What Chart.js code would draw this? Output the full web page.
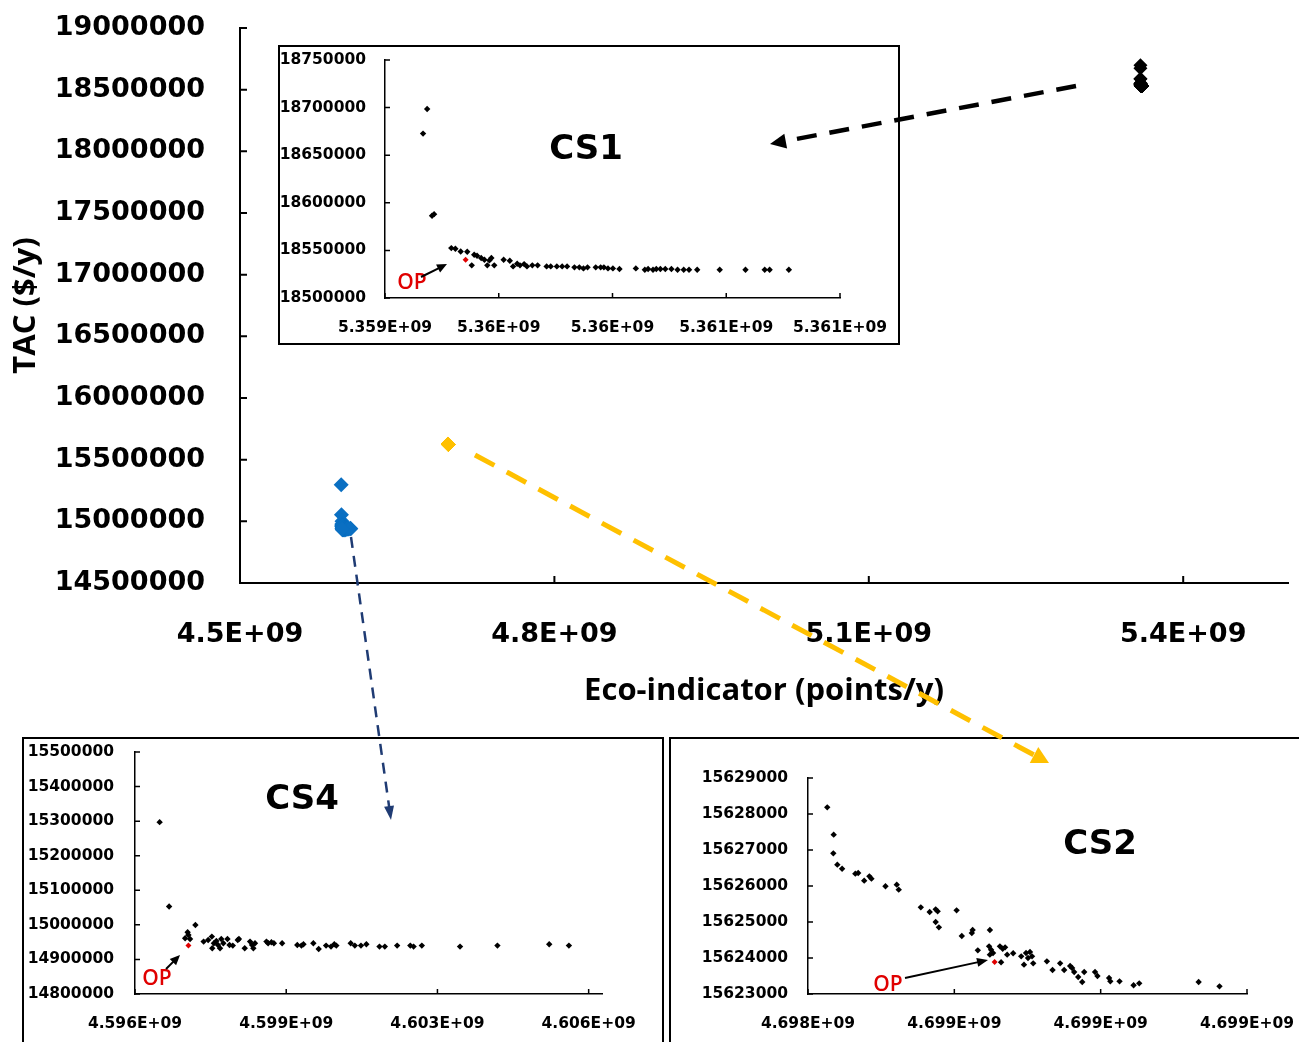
<!DOCTYPE html>
<html>
<head>
<meta charset="utf-8">
<script src="https://cdn.jsdelivr.net/npm/chart.js@4.4.0/dist/chart.umd.min.js"></script>
<style>
  body { margin: 0; background: #fff; overflow: hidden; }
  #page { position: relative; width: 1299px; height: 1042px; overflow: hidden; background: #fff; }
  .box { position: absolute; border: 2px solid #000; background: #fff; overflow: hidden; }
  .box canvas { position: absolute; left: 0; top: 0; }
  .lbl { position: absolute; font: bold 34px "DejaVu Sans"; transform: translate(-50%, -50%); white-space: nowrap; }
  .op { position: absolute; font: 600 21px "Open Sans"; color: #e00000; transform: translate(-50%, -50%); }
  svg { position: absolute; left: 0; top: 0; }
</style>
</head>
<body>
<div id="page">
  <canvas id="main" width="1299" height="720" style="position:absolute;left:0;top:0"></canvas>

  <div class="box" style="left:278px;top:45px;width:618px;height:296px">
    <canvas id="cs1" width="618" height="296"></canvas>
  </div>
  <div class="box" style="left:22px;top:737px;width:638px;height:320px">
    <canvas id="cs4" width="638" height="300"></canvas>
  </div>
  <div class="box" style="left:669px;top:737px;width:640px;height:320px">
    <canvas id="cs2" width="640" height="300"></canvas>
  </div>

  <div class="lbl" style="left:586px;top:147px">CS1</div>
  <div class="lbl" style="left:302px;top:797px">CS4</div>
  <div class="lbl" style="left:1100px;top:842px">CS2</div>
  <div class="op" style="left:412px;top:281px">OP</div>
  <div class="op" style="left:157px;top:977px">OP</div>
  <div class="op" style="left:888px;top:983px">OP</div>

  <svg id="arrows" width="1299" height="1042"></svg>
</div>

<script>
// ---- data ----
// CS1 Pareto points (Eco-indicator points/y, TAC $/y)
const cs1X = [5359167300, 5359185300, 5359206800, 5359215800, 5359291400, 5359309400, 5359332700, 5359361500,
  5359381300, 5359392100, 5359404700, 5359422700, 5359437100, 5359449700, 5359458600, 5359467600, 5359480200,
  5359521600, 5359548600, 5359563000, 5359581000, 5359593500, 5359611500, 5359624100, 5359647500, 5359670900,
  5359710400, 5359728400, 5359755400, 5359778800, 5359800400, 5359832700, 5359854300, 5359872300, 5359890300,
  5359926300, 5359947900, 5359962200, 5359980200, 5360001800, 5360030600, 5360102600, 5360142100, 5360156500,
  5360178100, 5360192500, 5360210500, 5360232100, 5360259000, 5360286000, 5360313000, 5360336400, 5360372300,
  5360471300, 5360584600, 5360669100, 5360690700, 5360775200];
const cs1Y = [18672700, 18698600, 18586400, 18588100, 18552400, 18551700, 18548900, 18548600,
  18534300, 18545500, 18544400, 18542000, 18540200, 18534300, 18539500, 18542000, 18534300,
  18540200, 18539100, 18533200, 18536000, 18534300, 18535600, 18533200, 18534300, 18534300,
  18533200, 18533200, 18533200, 18533200, 18533200, 18532200, 18532200, 18531100, 18532200,
  18532200, 18532200, 18532200, 18531100, 18531100, 18530400, 18531100, 18529700, 18530400,
  18529700, 18530400, 18530400, 18530400, 18530400, 18529700, 18529700, 18529700, 18529700,
  18529700, 18529700, 18529700, 18529700, 18529700];
const cs1OpX = [5359354300];
const cs1OpY = [18540200];

// CS4
const cs4X = [4596554000, 4596767000, 4597358000, 4597183000, 4597201000, 4597127000, 4597238000, 4597543000,
  4597645000, 4597728000, 4597737000, 4597774000, 4597829000, 4597866000, 4597912000, 4597940000, 4597986000,
  4598079000, 4598125000, 4598199000, 4598310000, 4598337000, 4598467000, 4598587000, 4598633000, 4598661000,
  4598698000, 4598956000, 4598993000, 4599067000, 4599123000, 4599308000, 4599649000, 4599742000, 4599788000,
  4600010000, 4600130000, 4600296000, 4600407000, 4600481000, 4600527000, 4600850000, 4600943000, 4601081000,
  4601202000, 4601497000, 4601617000, 4601894000, 4602190000, 4602264000, 4602449000, 4603308000, 4604149000,
  4605313000, 4605756000];
const cs4Y = [15297100, 15052900, 14999800, 14978600, 14970900, 14961200, 14959300, 14951500,
  14956400, 14966000, 14932200, 14946700, 14953500, 14941900, 14932200, 14959300, 14946700,
  14959300, 14941900, 14940000, 14956400, 14959300, 14932200, 14951500, 14941900, 14932200,
  14946700, 14951500, 14946700, 14949600, 14946700, 14946700, 14941900, 14940000, 14943800,
  14946700, 14930300, 14940000, 14937100, 14943800, 14940000, 14946700, 14940000, 14940000,
  14943800, 14937100, 14937100, 14940000, 14940000, 14937100, 14940000, 14937100, 14940000,
  14943800, 14940000];
const cs4OpX = [4597201000];
const cs4OpY = [14940000];

// CS2
const cs2X = [4698426300, 4698435100, 4698434600, 4698440100, 4698446600, 4698464700, 4698468600, 4698476800,
  4698483900, 4698486700, 4698505900, 4698521300, 4698524000, 4698554200, 4698566300, 4698574500, 4698577200,
  4698574500, 4698578900, 4698603100, 4698610200, 4698623900, 4698625000, 4698632100, 4698648600, 4698647500,
  4698650200, 4698652900, 4698648600, 4698663900, 4698662300, 4698666100, 4698669400, 4698672200, 4698680400,
  4698691400, 4698695200, 4698698000, 4698700700, 4698703400, 4698706200, 4698707800, 4698726500, 4698734200,
  4698744600, 4698750100, 4698758300, 4698761000, 4698763800, 4698769300, 4698774800, 4698777500, 4698792300,
  4698795600, 4698811500, 4698813200, 4698825800, 4698845000, 4698852700, 4698933900, 4698962400];
const cs2Y = [15628185, 15627426, 15626907, 15626593, 15626481, 15626343, 15626361, 15626148,
  15626268, 15626204, 15625991, 15626037, 15625898, 15625407, 15625278, 15625352, 15625296,
  15625000, 15624852, 15625324, 15624611, 15624694, 15624778, 15624213, 15624778, 15624324,
  15624231, 15624139, 15624093, 15623880, 15624324, 15624259, 15624296, 15624093, 15624130,
  15624046, 15623815, 15624139, 15624000, 15624167, 15624046, 15623852, 15623907, 15623667,
  15623852, 15623667, 15623778, 15623722, 15623611, 15623472, 15623333, 15623611, 15623611,
  15623500, 15623444, 15623352, 15623352, 15623241, 15623296, 15623333, 15623213];
const cs2OpX = [4698655100];
const cs2OpY = [15623889];

// tick positions and labels
const mainXTicks = [4.5e9, 4.8e9, 5.1e9, 5.4e9];
const mainXLabels = ['4.5E+09', '4.8E+09', '5.1E+09', '5.4E+09'];
const cs1XTicks = [5.359e9, 5.3595e9, 5.36e9, 5.3605e9, 5.361e9];
const cs1XLabels = ['5.359E+09', '5.36E+09', '5.36E+09', '5.361E+09', '5.361E+09'];
const cs4XTicks = [4.596e9, 4.5994e9, 4.6028e9, 4.6062e9];
const cs4XLabels = ['4.596E+09', '4.599E+09', '4.603E+09', '4.606E+09'];
const cs2XTicks = [4.6984e9, 4.6986e9, 4.6988e9, 4.699e9];
const cs2XLabels = ['4.698E+09', '4.699E+09', '4.699E+09', '4.699E+09'];

// ---- helpers ----
function pts(xs, ys) {
  return xs.map((x, i) => ({ x: x, y: ys[i] }));
}

// Excel-style tick marks pointing into the plot area
const innerTicks = {
  id: 'innerTicks',
  afterDatasetsDraw(chart, args, o) {
    const { ctx, chartArea: a, scales } = chart;
    ctx.save();
    ctx.strokeStyle = '#000';
    ctx.lineWidth = o.width;
    ctx.beginPath();
    scales.x.ticks.forEach(t => {
      const p = scales.x.getPixelForValue(t.value);
      ctx.moveTo(p, a.bottom);
      ctx.lineTo(p, a.bottom - o.len);
    });
    scales.y.ticks.forEach(t => {
      const p = scales.y.getPixelForValue(t.value);
      ctx.moveTo(a.left, p);
      ctx.lineTo(a.left + o.len, p);
    });
    ctx.stroke();
    ctx.restore();
  }
};

function axisX(min, max, ticks, labels, h, font, pad, bw) {
  return {
    type: 'linear', min: min, max: max,
    afterBuildTicks: s => { s.ticks = ticks.map(v => ({ value: v })); },
    afterFit: s => { s.height = h; s.paddingLeft = 0; s.paddingRight = 0; },
    grid: { display: false, drawTicks: false },
    border: { display: true, color: '#000', width: bw },
    ticks: { color: '#000', font: font, padding: pad, maxRotation: 0, autoSkip: false,
      callback: (v, i) => labels[i] }
  };
}
function axisY(min, max, step, w, font, pad, bw) {
  return {
    type: 'linear', min: min, max: max,
    afterFit: s => { s.width = w; s.paddingTop = 0; s.paddingBottom = 0; },
    grid: { display: false, drawTicks: false },
    border: { display: true, color: '#000', width: bw },
    ticks: { color: '#000', font: font, padding: pad, stepSize: step, callback: v => String(v) }
  };
}

// ---- main chart ----
const bigFont = { family: 'DejaVu Sans', size: 27, weight: 'bold' };
new Chart(document.getElementById('main'), {
  type: 'scatter',
  data: {
    datasets: [
      { label: 'CS1', data: pts(cs1X.concat(cs1OpX), cs1Y.concat(cs1OpY)),
        pointStyle: 'rectRot', radius: 7, backgroundColor: '#000', borderColor: '#000', borderWidth: 0 },
      { label: 'CS4', data: pts(cs4X.concat(cs4OpX), cs4Y.concat(cs4OpY)),
        pointStyle: 'rectRot', radius: 7.5, backgroundColor: '#0a6fc2', borderColor: '#0a6fc2', borderWidth: 0 },
      { label: 'CS2', data: pts(cs2X.concat(cs2OpX), cs2Y.concat(cs2OpY)),
        pointStyle: 'rectRot', radius: 7, backgroundColor: '#ffc000', borderColor: '#ffc000', borderWidth: 0 }
    ]
  },
  options: {
    responsive: false,
    animation: false,
    layout: { padding: { top: 28, right: 11, left: 0, bottom: 0 } },
    plugins: { legend: { display: false }, tooltip: { enabled: false }, innerTicks: { len: 7, width: 2 } },
    scales: {
      x: Object.assign(axisX(4.5e9, 5.5e9, mainXTicks, mainXLabels, 137, bigFont, 36, 2), {
        title: { display: true, text: 'Eco-indicator (points/y)', color: '#000',
          font: { family: 'Open Sans', size: 31, weight: 'bold' }, padding: { top: 0, bottom: 10 } }
      }),
      y: Object.assign(axisY(14500000, 19000000, 500000, 240, bigFont, 35, 2), {
        title: { display: true, text: 'TAC ($/y)', color: '#000',
          font: { family: 'Open Sans', size: 31, weight: 'bold' }, padding: { top: 8, bottom: 0 } }
      })
    }
  },
  plugins: [innerTicks]
});

// ---- insets ----
const smallFont = { family: 'DejaVu Sans', size: 15.5, weight: 'bold' };
function inset(id, xs, ys, opx, opy, xr, xt, xl, yr, g) {
  new Chart(document.getElementById(id), {
    type: 'scatter',
    data: {
      datasets: [
        { label: 'OP', data: pts(opx, opy), pointStyle: 'rectRot', radius: 3,
          backgroundColor: '#e00000', borderWidth: 0 },
        { label: id, data: pts(xs, ys), pointStyle: 'rectRot', radius: 3.2,
          backgroundColor: '#000', borderWidth: 0 }
      ]
    },
    options: {
      responsive: false,
      animation: false,
      layout: { padding: { top: g.top, right: g.right, left: 0, bottom: 0 } },
      plugins: { legend: { display: false }, tooltip: { enabled: false }, innerTicks: { len: 5, width: 1.5 } },
      scales: {
        x: axisX(xr[0], xr[1], xt, xl, g.xh, smallFont, 21, 1.5),
        y: axisY(yr[0], yr[1], yr[2], g.yw, smallFont, g.ypad, 1.5)
      }
    },
    plugins: [innerTicks]
  });
}
inset('cs1', cs1X, cs1Y, cs1OpX, cs1OpY, [5.359e9, 5.361e9], cs1XTicks, cs1XLabels,
  [18500000, 18750000, 50000], { top: 13, right: 58, xh: 45, yw: 105, ypad: 19 });
inset('cs4', cs4X, cs4Y, cs4OpX, cs4OpY, [4.596e9, 4.6065e9], cs4XTicks, cs4XLabels,
  [14800000, 15500000, 100000], { top: 13, right: 60, xh: 45, yw: 111, ypad: 21 });
inset('cs2', cs2X, cs2Y, cs2OpX, cs2OpY, [4.6984e9, 4.699e9], cs2XTicks, cs2XLabels,
  [15623000, 15629000, 1000], { top: 39, right: 64, xh: 45, yw: 137, ypad: 20 });

// ---- pointer arrows ----
const svg = document.getElementById('arrows');
function arrow(x1, y1, x2, y2, color, w, dash, hl, hw) {
  const dx = x2 - x1, dy = y2 - y1, L = Math.hypot(dx, dy);
  const ux = dx / L, uy = dy / L;
  const bx = x2 - ux * hl, by = y2 - uy * hl;
  const ns = 'http://www.w3.org/2000/svg';
  const line = document.createElementNS(ns, 'line');
  line.setAttribute('x1', x1); line.setAttribute('y1', y1);
  line.setAttribute('x2', bx + ux * 1); line.setAttribute('y2', by + uy * 1);
  line.setAttribute('stroke', color); line.setAttribute('stroke-width', w);
  if (dash) line.setAttribute('stroke-dasharray', dash);
  svg.appendChild(line);
  const head = document.createElementNS(ns, 'polygon');
  const px = -uy * hw / 2, py = ux * hw / 2;
  head.setAttribute('points', `${x2},${y2} ${bx + px},${by + py} ${bx - px},${by - py}`);
  head.setAttribute('fill', color);
  svg.appendChild(head);
}
arrow(1076, 86, 770, 144, '#000', 4.5, '20 13', 16, 15);
arrow(351, 537, 391, 820, '#1f3b73', 2.5, '11 8', 14, 10);
arrow(475, 455, 1049, 763, '#ffc000', 5, '22 14', 17, 18);
arrow(421, 277, 447, 264, '#000', 2, null, 10, 9);
arrow(166, 969, 180, 955, '#000', 2, null, 10, 9);
arrow(905, 978, 988, 960, '#000', 2, null, 11, 9);
</script>
</body>
</html>
